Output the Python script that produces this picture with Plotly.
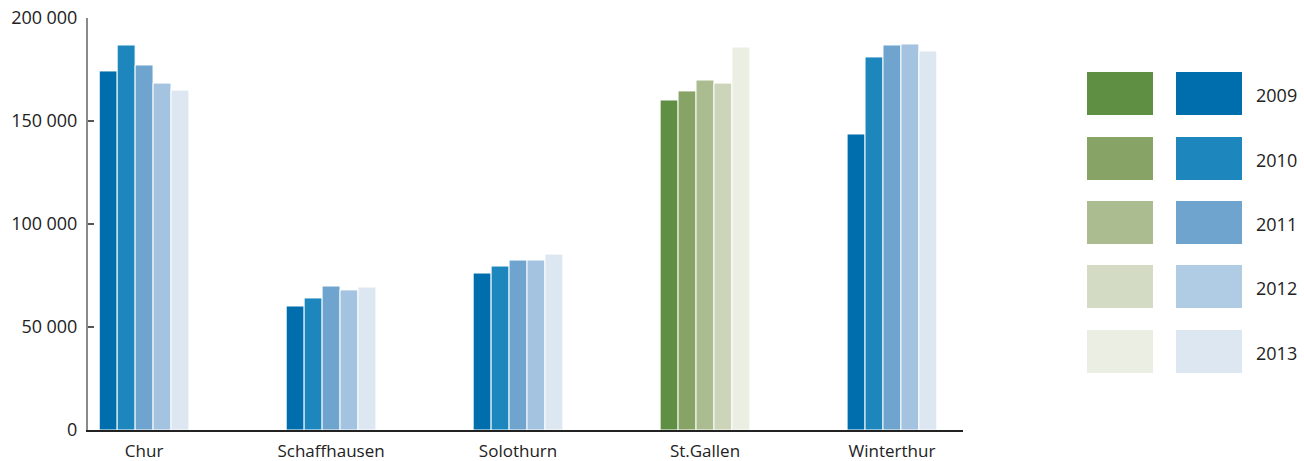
import plotly.graph_objects as go

cities = ["Chur", "Schaffhausen", "Solothurn", "St.Gallen", "Winterthur"]
years = ["2009", "2010", "2011", "2012", "2013"]
values = {
    "2009": [174300, 60200, 76200, 160200, 143700],
    "2010": [186900, 64100, 79600, 164600, 181100],
    "2011": [177200, 69900, 82500, 169900, 186900],
    "2012": [168400, 68000, 82500, 168400, 187400],
    "2013": [165000, 69400, 85400, 185900, 184000],
}
blues = ["#006EAD", "#1D87BD", "#6FA4CE", "#A3C3E0", "#DDE7F2"]
greens = ["#5F8F42", "#87A366", "#ACBC91", "#CCD4BA", "#EBEEE3"]
legend_greens = ["#5F8F42", "#87A366", "#ACBC91", "#D4DBC4", "#EBEEE3"]
legend_blues = ["#006EAD", "#1D87BD", "#6FA4CE", "#B0CBE4", "#DDE7F2"]
tick_vals = [0, 50000, 100000, 150000, 200000]
tick_text = ["0", "50\u2005000", "100\u2005000", "150\u2005000", "200\u2005000"]
highlight = "St.Gallen"

FONT = "Open Sans"
fig = go.Figure()
for i, y in enumerate(years):
    colors = [greens[i] if c == highlight else blues[i] for c in cities]
    fig.add_trace(go.Bar(
        x=cities, y=values[y], name=y,
        marker=dict(color=colors, line=dict(color="white", width=1)),
        showlegend=False,
    ))

# custom legend (two swatch columns + year label)
W, H = 1304, 461
ml, mr, mt, mb = 88, 341, 18, 31
pw, ph = W - ml - mr, H - mt - mb
def px(x):
    return (x - ml) / pw
def py(y):
    return (H - mb - y) / ph

row_top = [72, 137, 201, 265, 330]
for i, y in enumerate(years):
    t = row_top[i]
    fig.add_shape(type="rect", xref="paper", yref="paper",
                  x0=px(1087), x1=px(1153), y0=py(t + 43), y1=py(t),
                  fillcolor=legend_greens[i], line=dict(width=0))
    fig.add_shape(type="rect", xref="paper", yref="paper",
                  x0=px(1176), x1=px(1242), y0=py(t + 43), y1=py(t),
                  fillcolor=legend_blues[i], line=dict(width=0))
    fig.add_annotation(xref="paper", yref="paper", x=px(1254), y=py(t + 23),
                       text=y, showarrow=False, xanchor="left", yanchor="middle",
                       font=dict(family=FONT, size=18, color="#222222"))

fig.update_layout(
    width=W, height=H,
    margin=dict(l=ml, r=mr, t=mt, b=mb),
    plot_bgcolor="white", paper_bgcolor="white",
    barmode="group", bargap=0.52, bargroupgap=0,
    font=dict(family=FONT, size=17, color="#222222"),
)
fig.update_xaxes(
    range=[-0.30, 4.38], showline=True, linecolor="#222222", linewidth=1.5,
    ticks="", showgrid=False, automargin=False, ticklabelstandoff=5,
    tickfont=dict(family=FONT, size=17, color="#222222"),
)
fig.update_yaxes(
    range=[0, 200000], tickvals=tick_vals, ticktext=tick_text,
    showline=True, linecolor="#8a8a8a", linewidth=2,
    ticks="inside", ticklen=6, tickcolor="#555555", tickwidth=1.5,
    showgrid=False, zeroline=False, automargin=False,
    tickfont=dict(family=FONT, size=18, color="#222222"), ticklabelstandoff=5,
)
fig.write_html("out.html")
